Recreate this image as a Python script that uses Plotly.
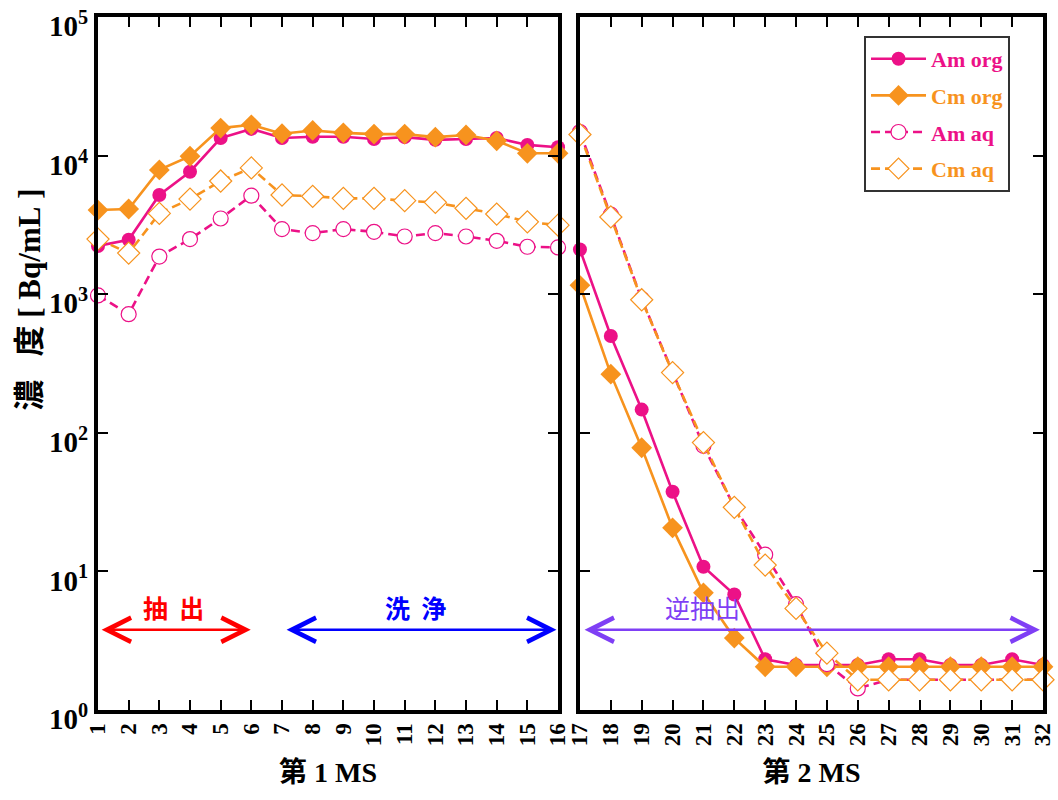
import plotly.graph_objects as go

# ---------------- data ----------------
x1 = list(range(1, 17))
x2 = list(range(17, 33))

am_org_1 = [2230, 2470, 5200, 7660, 13400, 15600, 13400, 13700, 13700, 13200, 13600, 13000, 13200, 13400, 11950, 11500]
cm_org_1 = [4050, 4120, 7890, 9900, 15800, 16700, 14400, 15200, 14600, 14300, 14300, 13600, 14100, 12800, 10400, 10400]
am_aq_1 = [980, 718, 1870, 2500, 3520, 5140, 2950, 2760, 2950, 2820, 2610, 2760, 2610, 2430, 2200, 2175]
cm_aq_1 = [2500, 1980, 3830, 4860, 6560, 8150, 5200, 5090, 4920, 4920, 4730, 4600, 4170, 3790, 3330, 3150]

am_org_2 = [2100, 500, 147, 37.5, 10.8, 6.8, 2.32, 2.11, 2.11, 2.11, 2.32, 2.32, 2.11, 2.11, 2.32, 2.11]
cm_org_2 = [1160, 265, 78, 20.6, 7.0, 3.3, 2.05, 2.05, 2.05, 2.05, 2.05, 2.05, 2.05, 2.05, 2.05, 2.05]
am_aq_2 = [14800, 3750, 922, 274, 80.5, 29.2, 13.2, 5.8, 2.14, 1.43, 1.65, 1.65, 1.65, 1.65, 1.65, 1.65]
cm_aq_2 = [14200, 3610, 912, 272, 85, 29, 11.1, 5.4, 2.57, 1.65, 1.65, 1.65, 1.65, 1.65, 1.65, 1.65]

ytick_vals = [1, 10, 100, 1000, 10000, 100000]
ytick_text = ["10<sup>0</sup>", "10<sup>1</sup>", "10<sup>2</sup>", "10<sup>3</sup>", "10<sup>4</sup>", "10<sup>5</sup>"]
xtick_text_1 = [str(v) for v in x1]
xtick_text_2 = [str(v) for v in x2]

PINK = "#EC1187"
ORANGE = "#F7931E"
SERIF = "Liberation Serif, Noto Sans CJK JP, serif"
GOTHIC = "Noto Sans CJK JP, sans-serif"
DASH = "9px,5px"

series = [
    ("Am org", am_org_1, am_org_2, PINK, "solid", dict(symbol="circle", size=14, color=PINK)),
    ("Cm org", cm_org_1, cm_org_2, ORANGE, "solid", dict(symbol="diamond", size=16, color=ORANGE)),
    ("Am aq", am_aq_1, am_aq_2, PINK, DASH,
     dict(symbol="circle", size=15, color="white", line=dict(width=1.2, color=PINK))),
    ("Cm aq", cm_aq_1, cm_aq_2, ORANGE, DASH,
     dict(symbol="diamond", size=17, color="white", line=dict(width=1.2, color=ORANGE))),
]

fig = go.Figure()
for name, y1, y2, col, dash, mk in series:
    fig.add_trace(go.Scatter(x=x1, y=y1, mode="lines+markers", xaxis="x", yaxis="y",
                             line=dict(color=col, width=2.6, dash=dash), marker=mk,
                             showlegend=False, cliponaxis=False))
for name, y1, y2, col, dash, mk in series:
    fig.add_trace(go.Scatter(x=x2, y=y2, mode="lines+markers", xaxis="x2", yaxis="y2",
                             name=f"<span style='color:{col}'><b>{name}</b></span>", legendgroup=name,
                             line=dict(color=col, width=2.6, dash=dash), marker=mk,
                             showlegend=True, cliponaxis=False))

axis_common = dict(showline=True, linewidth=4, linecolor="black", mirror="ticks",
                   ticks="inside", ticklen=10, tickwidth=1.5, tickcolor="black",
                   showgrid=False, zeroline=False, automargin=False)

fig.update_layout(
    width=1058, height=800,
    margin=dict(l=98, r=15, t=17, b=90, autoexpand=False),
    paper_bgcolor="white", plot_bgcolor="white",
    xaxis=dict(domain=[0, 0.4868], range=[1, 16], tickmode="array", tickvals=x1,
               ticktext=[f"<b>{t}</b>" for t in xtick_text_1],
               tickangle=-90, tickfont=dict(family=SERIF, size=23, color="black"),
               title=dict(text="<b>第 1 MS</b>", font=dict(family=SERIF, size=28, color="black"), standoff=18),
               **axis_common),
    xaxis2=dict(domain=[0.51, 1.0], range=[17, 32], tickmode="array", tickvals=x2,
                ticktext=[f"<b>{t}</b>" for t in xtick_text_2],
                tickangle=-90, tickfont=dict(family=SERIF, size=23, color="black"),
                title=dict(text="<b>第 2 MS</b>", font=dict(family=SERIF, size=28, color="black"), standoff=18),
                **axis_common),
    yaxis=dict(type="log", range=[-0.0005, 5.0005], domain=[0, 1], tickmode="array", tickvals=ytick_vals,
               ticktext=[f"<b>{t}</b>" for t in ytick_text], ticklabeloverflow="allow",
               ticklabelshift=9,
               tickfont=dict(family=SERIF, size=29, color="black"),
               **axis_common),
    yaxis2=dict(type="log", range=[-0.0005, 5.0005], domain=[0, 1], anchor="x2", tickmode="array",
                tickvals=ytick_vals, showticklabels=False, **axis_common),
    legend=dict(x=0.8106, y=0.9726, xanchor="left", yanchor="top",
                bgcolor="white", bordercolor="#333", borderwidth=2,
                font=dict(family=SERIF, size=22, color="black"),
                tracegroupgap=5, itemwidth=55),
    font=dict(family=SERIF),
)

# y-axis title (placed as rotated text)
fig.add_annotation(x=-0.072, y=0.592, xref="paper", yref="paper", textangle=-90,
                   xanchor="center", yanchor="middle",
                   text="<b>濃&nbsp;&nbsp;&nbsp;度&nbsp;[&nbsp;Bq/mL&nbsp;]</b>", showarrow=False,
                   font=dict(family=SERIF, size=31, color="black"))

# ---------------- arrows & labels ----------------
arrow_y = 0.578
arrows = [
    ("x", "y", 1.07, 5.98, "#FF0000"),
    ("x", "y", 7.1, 15.95, "#0000FF"),
    ("x2", "y2", 17.1, 31.9, "#7F3FF5"),
]
for xr, yr, xa, xb, col in arrows:
    fig.add_annotation(x=xb, y=arrow_y, ax=xa, ay=arrow_y, xref=xr, yref=yr, axref=xr, ayref=yr,
                       text="", showarrow=True, arrowhead=5, startarrowhead=5, arrowside="end+start",
                       arrowwidth=2.5, arrowsize=1.9, startarrowsize=1.9, arrowcolor=col,
                       standoff=0, startstandoff=0)

labels = [
    ("x", "y", 3.45, "<b>抽&nbsp;&nbsp;出</b>", "#FF0000"),
    ("x", "y", 11.34, "<b>洗&nbsp;&nbsp;浄</b>", "#0000FF"),
    ("x2", "y2", 20.98, "逆抽出", "#7F3FF5"),
]
for xr, yr, xv, txt, col in labels:
    fig.add_annotation(x=xv, y=0.74, xref=xr, yref=yr, text=txt, showarrow=False,
                       font=dict(family=GOTHIC, size=25, color=col))

fig.write_html("out.html")
